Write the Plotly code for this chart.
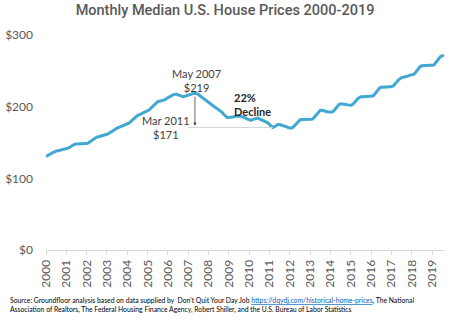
import plotly.graph_objects as go
import pandas as pd

# Monthly median U.S. house prices ($ thousands), Jan 2000 - Aug 2019
prices_2000 = [130.5, 131.5, 133, 134.5, 136, 137.5, 138, 138.5, 139, 139.5, 140, 140.5]
prices_2001 = [141, 142, 143.5, 145, 146.5, 147.5, 148, 148, 148, 147.5, 147.5, 148]
prices_2002 = [148.5, 149.5, 151, 153, 155, 156.5, 157.5, 158, 158.5, 159, 160, 161]
prices_2003 = [161.5, 162.5, 164, 165.5, 167.5, 169, 170, 171, 172, 172.5, 173.5, 175]
prices_2004 = [175.5, 177, 179, 181.5, 184, 186, 187.5, 188.5, 189.5, 190.5, 191.5, 193]
prices_2005 = [193.5, 195.5, 198, 200.5, 203, 205.5, 207, 207.5, 208, 208.5, 209.5, 211]
prices_2006 = [212, 213.5, 215, 216.5, 217, 217.5, 216.5, 215.5, 214.5, 214, 214.5, 215]
prices_2007 = [215.5, 216.5, 217.5, 218.5, 219, 218.5, 217, 215, 213.5, 212, 210, 208]
prices_2008 = [205.5, 203.5, 202, 200.5, 199, 197.5, 196, 194.5, 192, 189, 186.5, 185]
prices_2009 = [185, 185, 185.5, 186, 186.5, 187, 187, 186.5, 186, 185, 184, 182.5]
prices_2010 = [181.5, 181, 182, 183, 184, 184, 183, 182, 181, 180, 179, 177.5]
prices_2011 = [175, 172.5, 171, 172, 173.5, 175, 175, 174.5, 174, 173, 172, 171]
prices_2012 = [170, 170, 171.5, 174, 177, 180, 181.5, 182, 182, 182, 182, 182]
prices_2013 = [182, 182.5, 184, 187, 190, 193, 195, 195, 194, 193.5, 193, 192.5]
prices_2014 = [192, 192.5, 194, 197, 200, 203, 204, 204, 203.5, 203, 202.5, 202]
prices_2015 = [202, 203, 205, 208, 211, 213, 214, 214, 214, 214, 214, 214]
prices_2016 = [214, 215, 217, 220, 223, 226, 227, 227.5, 227.5, 227.5, 227.5, 227.5]
prices_2017 = [228, 229, 231, 234, 237, 239.5, 240.5, 241, 241.5, 242, 243, 244]
prices_2018 = [244, 245, 247, 250, 253, 256, 257, 257, 257, 257, 257, 257]
prices_2019 = [257, 258, 261, 264, 267, 270, 271, 272]

prices = (prices_2000 + prices_2001 + prices_2002 + prices_2003 + prices_2004 +
          prices_2005 + prices_2006 + prices_2007 + prices_2008 + prices_2009 +
          prices_2010 + prices_2011 + prices_2012 + prices_2013 + prices_2014 +
          prices_2015 + prices_2016 + prices_2017 + prices_2018 + prices_2019)
dates = pd.date_range("2000-01-01", periods=len(prices), freq="MS")

year_ticks = [f"{y}-01-01" for y in range(2000, 2020)]
year_labels = [str(y) for y in range(2000, 2020)]
y_ticks = [0, 100, 200, 300]
y_labels = ["$0", "$100", "$200", "$300"]

peak_date, peak_value = "2007-05-01", 219
trough_date, trough_value = "2011-03-01", 171
line_start_date = "2007-01-01"

fig = go.Figure()
fig.add_trace(go.Scatter(x=dates, y=prices, mode="lines",
                         line=dict(color="#41a8d2", width=3), hoverinfo="skip"))

fig.update_layout(
    width=450, height=322,
    margin=dict(l=44, r=5, t=35, b=72),
    paper_bgcolor="white", plot_bgcolor="white",
    showlegend=False,
    font=dict(family="Lato, Open Sans, sans-serif", color="#595959", size=12),
    title=dict(text="Monthly Median U.S. House Prices 2000-2019",
               x=0.5, xanchor="center", y=0.985, yanchor="top",
               font=dict(family="Roboto, sans-serif", weight=500,
                         size=14.5, color="#595959")),
    xaxis=dict(type="date", range=["2000-01-01", "2019-08-20"],
               tickvals=year_ticks, ticktext=year_labels, tickangle=-90,
               showgrid=False, zeroline=False, showline=True, linecolor="#d9d9d9",
               ticks="outside", ticklen=4, tickcolor="#d9d9d9",
               tickfont=dict(size=12, color="#595959")),
    yaxis=dict(range=[0, 300], tickvals=y_ticks, ticktext=y_labels,
               showgrid=False, zeroline=False, showline=False,
               ticklabelstandoff=12,
               tickfont=dict(size=12, color="#595959")),
)

# horizontal reference at trough level
fig.add_shape(type="line", xref="x", yref="y",
              x0=line_start_date, x1=trough_date, y0=trough_value, y1=trough_value,
              line=dict(color="#d4d4d4", width=1))

# vertical arrow from peak down to trough level
fig.add_annotation(x=peak_date, y=trough_value + 2.5, ax=peak_date, ay=peak_value - 3,
                   xref="x", yref="y", axref="x", ayref="y",
                   showarrow=True, arrowhead=2, arrowsize=0.8, arrowwidth=0.8,
                   arrowcolor="#404040", text="")

fig.add_annotation(x=peak_date, y=peak_value, xref="x", yref="y",
                   text="May 2007<br>$219", showarrow=False,
                   yshift=13, xshift=2,
                   font=dict(size=11, color="#404040"), align="center")
fig.add_annotation(x="2005-12-01", y=trough_value, xref="x", yref="y",
                   text="Mar 2011<br>$171", showarrow=False,
                   yshift=0, font=dict(size=11, color="#404040"), align="center")
fig.add_annotation(x="2009-03-01", y=195, xref="x", yref="y", xanchor="left",
                   text="<b>22%<br>Decline</b>", showarrow=False, yshift=6,
                   font=dict(size=11, color="#262626"), align="left")

source = ("Source: Groundfloor analysis based on data supplied by  Don\u2019t Quit Your Day Job "
          "<a href='https://dqydj.com/historical-home-prices' style='color:#0563C1;text-decoration:underline'>"
          "https://dqydj.com/historical-home-prices</a>, The National<br>"
          "Association of Realtors, The Federal Housing Finance Agency, Robert Shiller, "
          "and the U.S. Bureau of Labor Statistics")
fig.add_annotation(x=0, y=0, xref="paper", yref="paper", text=source,
                   showarrow=False, xanchor="left", yanchor="top", align="left",
                   xshift=-38, yshift=-44,
                   font=dict(family="Lato, sans-serif", size=6.8, color="#000000"))

fig.write_html("out.html")
